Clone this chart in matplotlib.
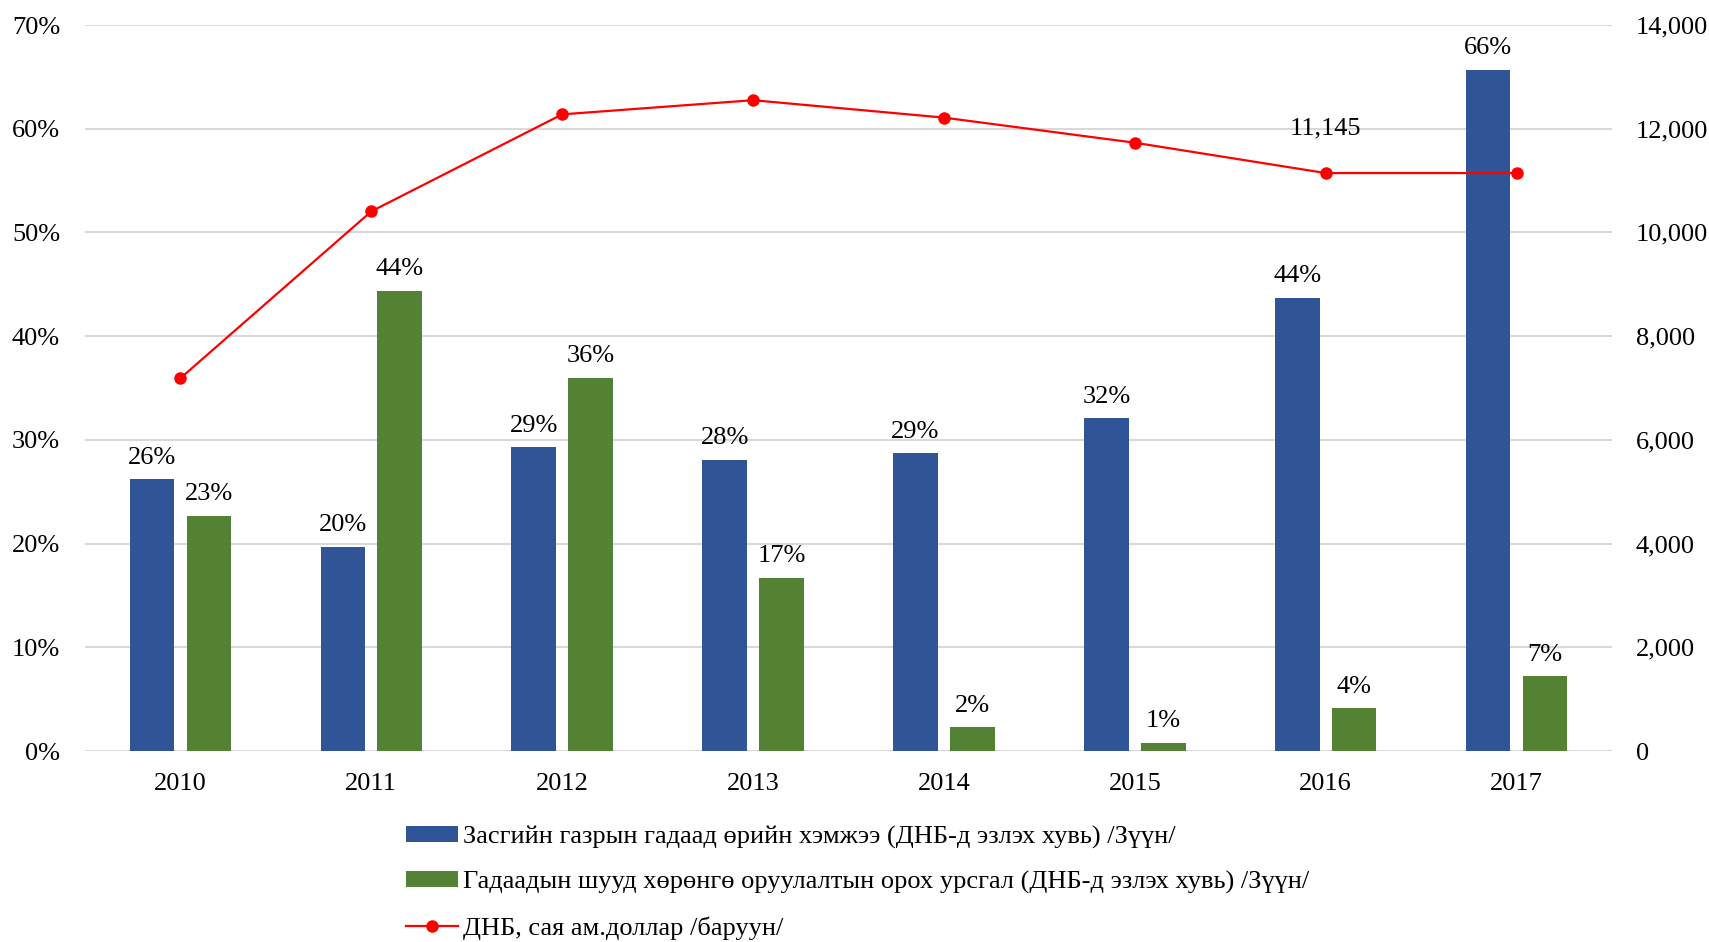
import matplotlib.pyplot as plt
import numpy as np

plt.rcParams['font.family'] = ['Liberation Serif', 'DejaVu Serif']

years = ["2010", "2011", "2012", "2013", "2014", "2015", "2016", "2017"]
gov_debt = [26.2, 19.7, 29.3, 28.1, 28.7, 32.1, 43.7, 65.7]
fdi = [22.7, 44.4, 36.0, 16.7, 2.3, 0.8, 4.1, 7.2]
gdp = [7189, 10406, 12277, 12550, 12214, 11730, 11145, 11145]

lbl_debt = "Засгийн газрын гадаад өрийн хэмжээ (ДНБ-д эзлэх хувь) /Зүүн/"
lbl_fdi = "Гадаадын шууд хөрөнгө оруулалтын орох урсгал (ДНБ-д эзлэх хувь) /Зүүн/"
lbl_gdp = "ДНБ, сая ам.доллар /баруун/"

blue = "#2f5597"
green = "#548235"
fs = 19

fig = plt.figure(figsize=(17.09, 9.42), dpi=100)
ax = fig.add_axes([85 / 1709, 1 - 751 / 942, (1612 - 85) / 1709, (751 - 25) / 942])
ax2 = ax.twinx()

x = np.arange(len(years))
w = 0.234
off = 0.149
b1 = ax.bar(x - off, gov_debt, w, color=blue, label=lbl_debt, zorder=3)
b2 = ax.bar(x + off, fdi, w, color=green, label=lbl_fdi, zorder=3)

# подписи над столбцами
for xi, v in zip(x, gov_debt):
    ax.text(xi - off, v + 1.0, f"{v:.0f}%", ha="center", va="bottom", fontsize=fs)
for xi, v in zip(x, fdi):
    ax.text(xi + off, v + 1.0, f"{v:.0f}%", ha="center", va="bottom", fontsize=fs)

ax.set_ylim(0, 70)
ax.set_xlim(-0.5, 7.5)
ax.set_yticks(np.arange(0, 71, 10))
ax.set_yticklabels([f"{t}%" for t in range(0, 71, 10)])
ax.set_xticks(x)
ax.set_xticklabels(years)
ax.grid(axis="y", color="#d9d9d9", linewidth=1.5, zorder=0)
ax.tick_params(length=0, labelsize=fs)
ax.tick_params(axis="x", pad=15.5)
ax.tick_params(axis="y", pad=18)

ln, = ax2.plot(x, gdp, color="#ff0000", marker="o", markersize=8, linewidth=1.6, label=lbl_gdp)
ax2.text(x[6], gdp[6] + 650, f"{gdp[6]:,}", ha="center", va="bottom", fontsize=fs)
ax2.set_ylim(0, 14000)
ax2.set_yticks(np.arange(0, 14001, 2000))
ax2.set_yticklabels([f"{t:,}" for t in range(0, 14001, 2000)])
ax2.tick_params(length=0, labelsize=fs, pad=17)

for a in (ax, ax2):
    for s in a.spines.values():
        s.set_visible(False)

ax.set_zorder(1)
ax2.set_zorder(2)
ax.patch.set_visible(False)

fig.legend(handles=[b1, b2, ln], loc="upper left", bbox_to_anchor=(395 / 1709, 1 - 815 / 942),
           frameon=False, fontsize=fs, handlelength=1.97, handleheight=0.57, handletextpad=0.2,
           labelspacing=0.84, borderaxespad=0)

fig.savefig("out.png", dpi=100)
